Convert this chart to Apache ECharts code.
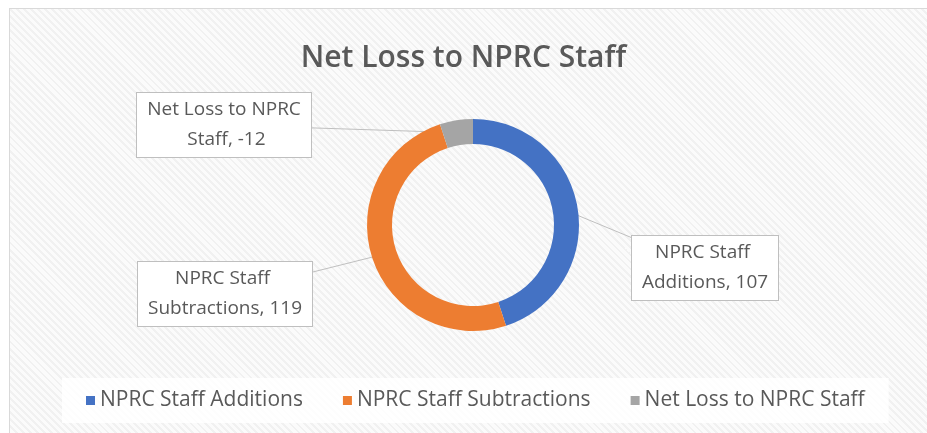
<!DOCTYPE html>
<html>
<head>
<meta charset="utf-8">
<script src="https://cdn.jsdelivr.net/npm/echarts@6/dist/echarts.min.js"></script>
<style>
  html, body { margin: 0; padding: 0; background: #fff; }
  #frame {
    position: absolute; left: 9px; top: 8px; width: 930px; height: 440px;
    border-left: 1px solid #d9d9d9; border-top: 1px solid #d9d9d9;
    background: repeating-linear-gradient(45deg, #f1f1f1 0 2px, #fbfbfb 2px 5px);
  }
  #chart { position: absolute; left: 0; top: 0; width: 927px; height: 433px; }
</style>
</head>
<body>
<div id="frame"></div>
<div id="chart"></div>
<script>
// data
var categories = ['NPRC Staff Additions', 'NPRC Staff Subtractions', 'Net Loss to NPRC Staff'];
var values = [107, 119, -12];
var colors = ['#4472C4', '#ED7D31', '#A5A5A5'];

// callout boxes (centre of each box) and text width
var labelPos = [[705, 268], [225, 294], [224, 125]];
var labelWidth = [130, 158, 158];

var pieCenter = [473, 225];
var pieRadius = [81, 106];

var chart = echarts.init(document.getElementById('chart'));

var option = {
  backgroundColor: 'transparent',
  title: {
    text: 'Net Loss to NPRC Staff',
    left: 'center',
    top: 38,
    textStyle: {
      fontFamily: 'Open Sans',
      fontWeight: 600,
      fontSize: 30,
      color: '#595959'
    }
  },
  legend: {
    bottom: 10,
    left: 62,
    icon: 'rect',
    itemWidth: 9,
    itemHeight: 9,
    itemGap: 40,
    padding: [12, 24],
    backgroundColor: 'rgba(255,255,255,0.85)',
    textStyle: { fontFamily: 'Open Sans', fontSize: 21, color: '#595959' },
    data: categories
  },
  series: [{
    type: 'pie',
    center: pieCenter,
    radius: pieRadius,
    startAngle: 90,
    clockwise: true,
    avoidLabelOverlap: false,
    emphasis: { disabled: true },
    data: categories.map(function (c, i) {
      return {
        name: c,
        value: Math.abs(values[i]), // Excel draws negative slices by size
        itemStyle: { color: colors[i] },
        label: { width: labelWidth[i] }
      };
    }),
    label: {
      show: true,
      position: 'outside',
      formatter: function (p) { return p.name + ', ' + values[p.dataIndex]; },
      overflow: 'break',
      align: 'center',
      fontFamily: 'Open Sans',
      fontSize: 19,
      lineHeight: 30,
      color: '#595959',
      backgroundColor: '#fff',
      borderColor: '#bfbfbf',
      borderWidth: 1,
      padding: [2, 8]
    },
    labelLine: {
      show: true,
      lineStyle: { color: '#bfbfbf', width: 1 }
    },
    labelLayout: function (p) {
      var pos = labelPos[p.dataIndex];
      // straight leader from the middle of the ring to the box
      var p0 = p.labelLinePoints[0];
      var a = Math.atan2(p0[1] - pieCenter[1], p0[0] - pieCenter[0]);
      var r = (pieRadius[0] + pieRadius[1]) / 2;
      var s = [pieCenter[0] + r * Math.cos(a), pieCenter[1] + r * Math.sin(a)];
      var m = [(s[0] + pos[0]) / 2, (s[1] + pos[1]) / 2];
      return {
        x: pos[0], y: pos[1], align: 'center', verticalAlign: 'middle',
        labelLinePoints: [s, m, pos]
      };
    }
  }]
};

chart.setOption(option);
</script>
</body>
</html>
